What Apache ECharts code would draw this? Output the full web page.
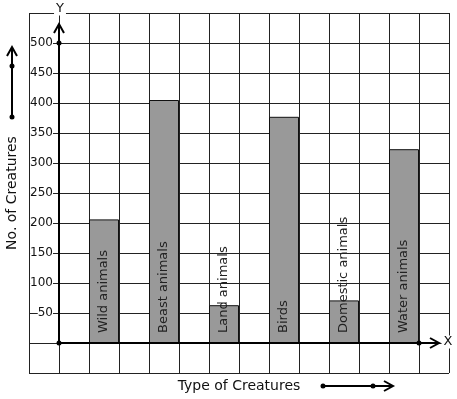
<!DOCTYPE html>
<html>
<head>
<meta charset="utf-8">
<script src="https://cdn.jsdelivr.net/npm/echarts@6/dist/echarts.min.js"></script>
<style>
html, body { margin: 0; padding: 0; background: #fff; }
#main { width: 457px; height: 399px; }
</style>
</head>
<body>
<div id="main"></div>
<script>
var categories = ['Wild animals', 'Beast animals', 'Land animals', 'Birds', 'Domestic animals', 'Water animals'];
var counts = [206, 405, 63, 377, 71, 323];
var yTicks = [50, 100, 150, 200, 250, 300, 350, 400, 450, 500];

// the paper has 14 columns, bars sit in every second one starting at column 2
var slotCount = 14;
var firstSlot = 2;

var slots = [], values = [];
for (var i = 0; i < slotCount; i++) {
    slots.push('s' + i);
    values.push('-');
}
categories.forEach(function (c, i) {
    slots[firstSlot + 2 * i] = c;
    values[firstSlot + 2 * i] = counts[i];
});

var font = 'DejaVu Sans';
var chart = echarts.init(document.getElementById('main'));

var option = {
    animation: false,
    grid: { left: 29, right: 8, top: 13, bottom: 26, outerBoundsMode: 'none' },
    xAxis: {
        type: 'category',
        data: slots,
        boundaryGap: true,
        axisLine: { show: false, onZero: false },
        axisTick: { show: false, interval: 0 },
        axisLabel: { show: false, interval: 0 },
        splitLine: { show: true, interval: 0, lineStyle: { color: '#222', width: 1 } },
        name: 'Type of Creatures',
        nameLocation: 'middle',
        nameGap: 6,
        nameTextStyle: { fontFamily: font, fontSize: 14, color: '#111' }
    },
    yAxis: [
        {
            type: 'value',
            min: -50,
            max: 550,
            interval: 50,
            axisLine: { show: false },
            axisTick: { show: false },
            axisLabel: { show: false },
            splitLine: { show: true, lineStyle: { color: '#222', width: 1 } }
        },
        {
            type: 'value',
            position: 'left',
            offset: -30,
            min: -50,
            max: 550,
            interval: 50,
            z: 10,
            axisLine: { show: false },
            axisTick: { show: false },
            splitLine: { show: false },
            axisLabel: {
                margin: 6,
                fontFamily: font,
                fontSize: 12,
                color: '#111',
                backgroundColor: '#fff',
                padding: [1, 0],
                formatter: function (v) {
                    return yTicks.indexOf(v) >= 0 ? String(v) : '';
                }
            },
            name: 'No. of Creatures',
            nameLocation: 'middle',
            nameRotate: 90,
            nameGap: 40,
            nameTextStyle: { fontFamily: font, fontSize: 14, color: '#111' }
        }
    ],
    series: [
        {
            type: 'bar',
            yAxisIndex: 0,
            data: values,
            barWidth: '100%',
            itemStyle: { color: '#999999', borderColor: '#111', borderWidth: 1 },
            label: {
                show: true,
                position: 'insideBottom',
                distance: 10,
                rotate: 90,
                align: 'left',
                verticalAlign: 'middle',
                formatter: '{b}',
                fontFamily: font,
                fontSize: 13,
                color: '#222'
            }
        }
    ]
};
chart.setOption(option);

// axes drawn through the library's own scales
var xLeft = (chart.convertToPixel({ xAxisIndex: 0 }, 0) + chart.convertToPixel({ xAxisIndex: 0 }, 1)) / 2;
var colW = chart.convertToPixel({ xAxisIndex: 0 }, 1) - chart.convertToPixel({ xAxisIndex: 0 }, 0);
var xRight = chart.convertToPixel({ xAxisIndex: 0 }, slotCount - 1) + colW / 2;
var y0 = chart.convertToPixel({ yAxisIndex: 0 }, 0);
var y500 = chart.convertToPixel({ yAxisIndex: 0 }, 500);
var yTop = chart.convertToPixel({ yAxisIndex: 0 }, 550);
var lastBarEdge = chart.convertToPixel({ xAxisIndex: 0 }, firstSlot + 2 * (categories.length - 1)) + colW / 2;

var ink = { stroke: '#000', lineWidth: 2, fill: null };
function line(x1, y1, x2, y2) {
    return { type: 'line', z: 20, shape: { x1: x1, y1: y1, x2: x2, y2: y2 }, style: ink };
}
function chevron(pts) {
    return { type: 'polyline', z: 20, shape: { points: pts }, style: ink };
}
function dot(x, y) {
    return { type: 'circle', z: 21, shape: { cx: x, cy: y, r: 2.5 }, style: { fill: '#000' } };
}
function label(x, y, t) {
    return {
        type: 'text', z: 22, x: x, y: y,
        style: {
            text: t, fontFamily: font, fontSize: 13, fill: '#111',
            align: 'center', verticalAlign: 'middle',
            backgroundColor: '#fff', padding: [0, 2]
        }
    };
}

var yArrowTip = yTop + 11;
var xArrowTip = xRight - 10;

chart.setOption({
    graphic: [
        line(xLeft, y0, xLeft, yArrowTip),
        chevron([[xLeft - 5, yArrowTip + 9], [xLeft, yArrowTip], [xLeft + 5, yArrowTip + 9]]),
        line(xLeft, y0, xArrowTip, y0),
        chevron([[xArrowTip - 9, y0 - 5], [xArrowTip, y0], [xArrowTip - 9, y0 + 5]]),
        dot(xLeft, y0),
        dot(xLeft, y500),
        dot(lastBarEdge, y0),
        label(xLeft + 1, 9, 'Y'),
        label(xRight - 1, y0 - 1, 'X'),
        // side arrows beside the axis names
        line(12, 117, 12, 47),
        chevron([[7, 56], [12, 47], [17, 56]]),
        dot(12, 117),
        dot(12, 66),
        line(323, 386, 393, 386),
        chevron([[384, 381], [393, 386], [384, 391]]),
        dot(323, 386),
        dot(373, 386)
    ]
});
</script>
</body>
</html>
